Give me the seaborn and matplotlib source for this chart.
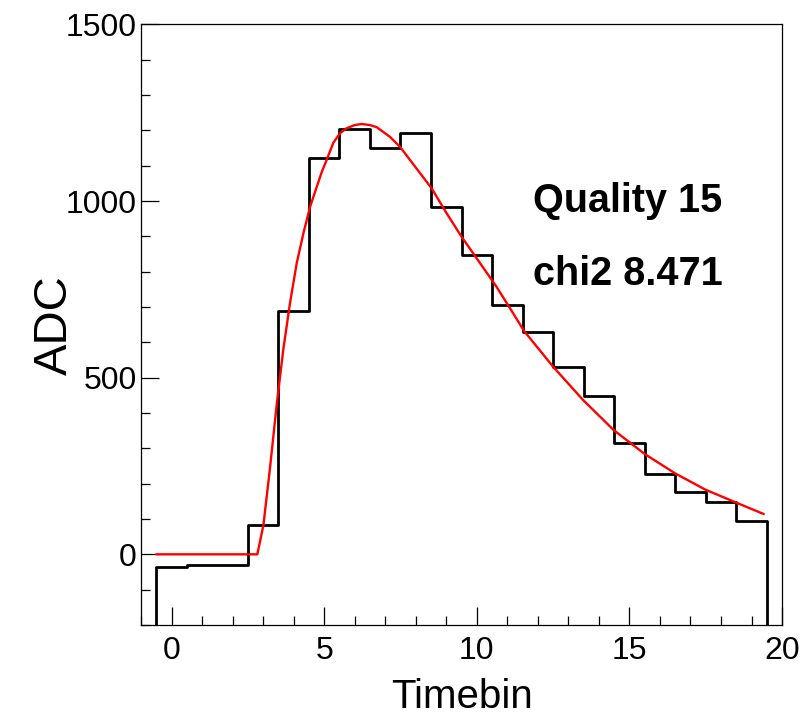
import numpy as np
import pandas as pd
import matplotlib
matplotlib.use("Agg")
import matplotlib.pyplot as plt
import seaborn as sns
from matplotlib.ticker import MultipleLocator

# ---- data ----
timebins = list(range(20))
adc_counts = [-35, -30, -30, 84, 690, 1123, 1203, 1151, 1192, 983,
              847, 706, 629, 530, 449, 314, 228, 175, 147, 93]

fit_x = [-0.5, 2.81, 3.01, 3.23, 3.45, 3.66, 3.88, 4.10, 4.32, 4.54,
         4.76, 4.92, 5.08, 5.30, 5.52, 5.74, 6.00, 6.23, 6.50, 6.72,
         7.15, 7.48, 7.92, 8.52, 9.00, 9.50, 10.10, 10.64, 11.15, 11.55,
         12.52, 13.48, 14.48, 15.50, 16.50, 17.49, 18.48, 19.40]
fit_y = [0, 0, 83, 248, 428, 579, 711, 824, 909, 984,
         1041, 1082, 1116, 1165, 1192, 1206, 1215, 1218, 1215, 1209,
         1182, 1154, 1104, 1036, 967, 899, 825, 758, 688, 632,
         529, 437, 352, 284, 229, 183, 147, 114]

quality_label = "Quality 15"
chi2_label = "chi2 8.471"
x_label = "Timebin"
y_label = "ADC"

# ---- style ----
sns.set_style("white")
plt.rcParams["font.family"] = ["Liberation Sans", "DejaVu Sans"]
plt.rcParams["text.color"] = "black"
plt.rcParams["axes.labelcolor"] = "black"
plt.rcParams["xtick.color"] = "black"
plt.rcParams["ytick.color"] = "black"

fig = plt.figure(figsize=(8.1, 7.15), dpi=100)
ax = fig.add_axes([0.1741, 0.1259, 0.7914, 0.8400])

bin_edges = [t - 0.5 for t in timebins] + [timebins[-1] + 0.5]
df = pd.DataFrame({"Timebin": timebins, "ADC": adc_counts})

sns.histplot(data=df, x="Timebin", weights="ADC", bins=bin_edges,
             element="step", fill=False, color="black", linewidth=2.0, ax=ax)

ymin, ymax = -200, 1500
# ROOT-style end lines down to the frame
ax.vlines([bin_edges[0], bin_edges[-1]], ymin, [adc_counts[0], adc_counts[-1]],
          color="black", linewidth=2.0)

sns.lineplot(x=fit_x, y=fit_y, color="red", linewidth=1.7, ax=ax)

ax.set_xlim(-1, 20)
ax.set_ylim(ymin, ymax)

ax.xaxis.set_major_locator(MultipleLocator(5))
ax.xaxis.set_minor_locator(MultipleLocator(1))
ax.yaxis.set_major_locator(MultipleLocator(500))
ax.yaxis.set_minor_locator(MultipleLocator(100))

ax.tick_params(axis="both", which="both", bottom=True, left=True, top=False, right=False)
ax.tick_params(axis="both", which="major", direction="in", length=13, width=0.9,
               labelsize=23, colors="black", pad=6)
ax.tick_params(axis="both", which="minor", direction="in", length=6.5, width=0.9,
               colors="black")
ax.tick_params(axis="x", which="major", pad=8)
ax.tick_params(axis="y", which="major", pad=3)

for s in ax.spines.values():
    s.set_color("black")
    s.set_linewidth(0.9)

ax.set_xlabel(x_label, fontsize=29, color="black")
ax.set_ylabel(y_label, fontsize=34, color="black")
ax.xaxis.set_label_coords(0.5, -0.088)
ax.yaxis.set_label_coords(-0.1, 0.5)

ax.text(0.611, 0.688, quality_label, transform=ax.transAxes, fontsize=28.5,
        fontweight="bold", va="baseline", ha="left", color="black")
ax.text(0.611, 0.566, chi2_label, transform=ax.transAxes, fontsize=28.5,
        fontweight="bold", va="baseline", ha="left", color="black")

fig.savefig("out.png", dpi=100)
